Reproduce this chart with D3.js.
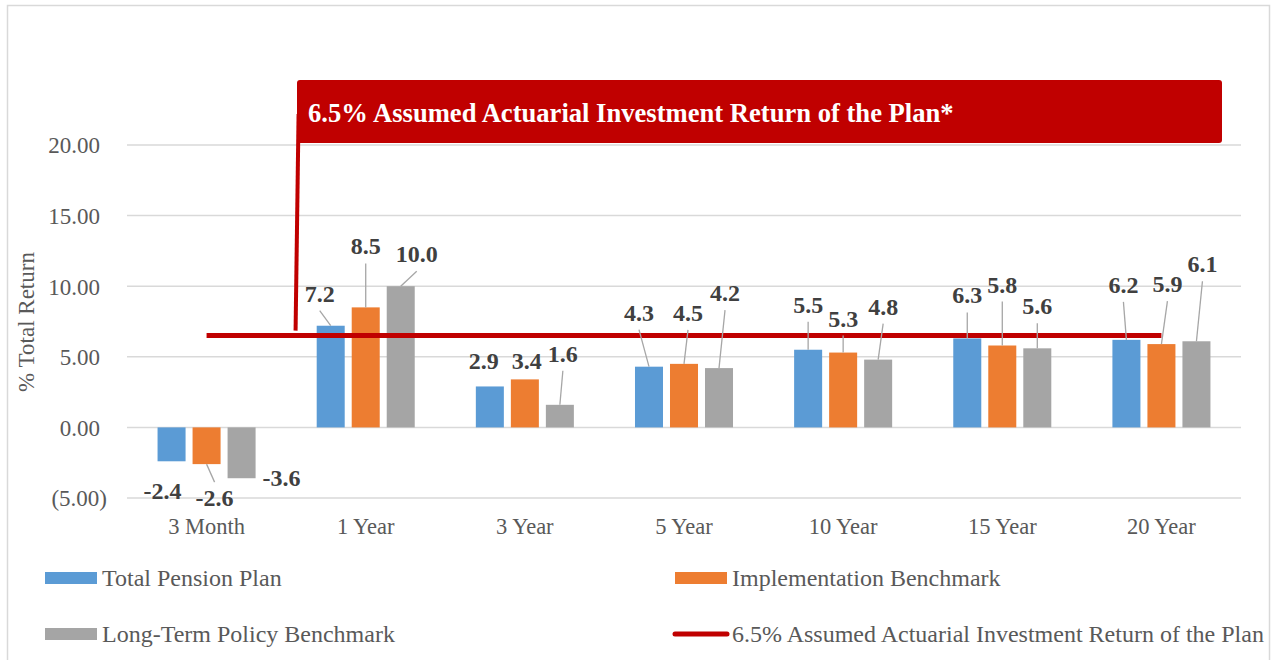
<!DOCTYPE html>
<html>
<head>
<meta charset="utf-8">
<script src="https://cdn.jsdelivr.net/npm/d3@7"></script>
<style>
  body { margin: 0; background: #fff; }
</style>
</head>
<body>
<div class="svg-container"></div>
<script>
// Data
var categories = ["3 Month", "1 Year", "3 Year", "5 Year", "10 Year", "15 Year", "20 Year"];
var seriesNames = ["Total Pension Plan", "Implementation Benchmark", "Long-Term Policy Benchmark"];
var totalPlan = [-2.4, 7.2, 2.9, 4.3, 5.5, 6.3, 6.2];
var implBenchmark = [-2.6, 8.5, 3.4, 4.5, 5.3, 5.8, 5.9];
var policyBenchmark = [-3.6, 10.0, 1.6, 4.2, 4.8, 5.6, 6.1];
var assumedReturn = 6.5;
var assumedLabel = "6.5% Assumed Actuarial Investment Return of the Plan";
var yTicks = [-5, 0, 5, 10, 15, 20];

var colors = ["#5b9bd5", "#ed7d31", "#a5a5a5"];
var red = "#c00000";
var serif = "'Liberation Serif', 'Times New Roman', serif";

// label nudges (px) from the bar end, and whether a leader line is drawn
var labelNudge = [
  [[-9, 38, 0], [8, 42, 1], [40, 8, 0]],
  [[-11, -24, 1], [0, -53, 1], [16, -24, 1]],
  [[-6, -17, 0], [2, -10, 0], [3, -43, 1]],
  [[-10, -46, 1], [4, -43, 1], [6, -67, 1]],
  [[0, -37, 1], [0, -26, 1], [5, -45, 1]],
  [[0, -35, 1], [0, -53, 1], [0, -34, 1]],
  [[-3, -47, 1], [6, -52, 1], [6, -69, 1]]
];

var W = 1275, H = 660;
var plotLeft = 127, plotRight = 1241;

var svg = d3.select(".svg-container").append("svg")
  .attr("width", W)
  .attr("height", H)
  .style("font-family", serif);

// chart border
svg.append("rect")
  .attr("x", 7.5).attr("y", 5.5)
  .attr("width", 1262).attr("height", 670)
  .attr("fill", "#fff")
  .attr("stroke", "#d9d9d9")
  .attr("stroke-width", 1.5);

// Scales
var x0 = d3.scaleBand().domain(categories)
  .range([plotLeft, plotRight])
  .paddingInner(0.384).paddingOuter(0.192);
var x1 = d3.scaleBand().domain(seriesNames)
  .range([0, x0.bandwidth()])
  .paddingInner(0.2);
var y = d3.scaleLinear().domain([-5, 20]).range([498, 145]);

var fmt1 = function(v) { return d3.format(".1f")(v).replace("\u2212", "-"); };

var rows = categories.map(function(c, i) {
  return {cat: c, i: i, vals: [totalPlan[i], implBenchmark[i], policyBenchmark[i]]};
});

// gridlines
svg.append("g").selectAll("line")
  .data(yTicks).enter().append("line")
  .attr("x1", plotLeft).attr("x2", plotRight)
  .attr("y1", function(d) { return y(d); })
  .attr("y2", function(d) { return y(d); })
  .attr("stroke", "#d9d9d9")
  .attr("stroke-width", 1.5);

// y axis labels
var yAxis = d3.axisLeft(y).tickValues(yTicks).tickSize(0).tickPadding(0)
  .tickFormat(function(d) {
    var s = d3.format(".2f")(Math.abs(d));
    return d < 0 ? "(" + s + ")" : s;
  });
var gy = svg.append("g").attr("transform", "translate(100,0)").call(yAxis)
  .attr("font-family", serif);
gy.select(".domain").remove();
gy.selectAll("text")
  .attr("x", function(d) { return d < 0 ? 7 : 0; })
  .attr("dy", "0.34em")
  .style("font-size", "23px")
  .style("fill", "#595959")
  .style("font-family", serif);

// x axis labels
var xAxis = d3.axisBottom(x0).tickSize(0).tickPadding(0);
var gx = svg.append("g").attr("transform", "translate(0,516)").call(xAxis)
  .attr("font-family", serif);
gx.select(".domain").remove();
gx.selectAll("text")
  .attr("y", 0).attr("dy", "0.8em")
  .style("font-size", "22.5px")
  .style("fill", "#595959")
  .style("font-family", serif);

// y title
svg.append("text")
  .attr("transform", "translate(34,322) rotate(-90)")
  .attr("text-anchor", "middle")
  .style("font-size", "23px")
  .style("fill", "#595959")
  .style("font-family", serif)
  .text("% Total Return");

// bars
var groups = svg.append("g").selectAll("g")
  .data(rows).enter().append("g")
  .attr("transform", function(d) { return "translate(" + x0(d.cat) + ",0)"; });

groups.selectAll("rect")
  .data(function(d) { return d.vals.map(function(v, j) { return {v: v, j: j}; }); })
  .enter().append("rect")
  .attr("x", function(d) { return x1(seriesNames[d.j]); })
  .attr("width", x1.bandwidth())
  .attr("y", function(d) { return y(Math.max(0, d.v)); })
  .attr("height", function(d) { return Math.abs(y(d.v) - y(0)); })
  .attr("fill", function(d) { return colors[d.j]; });

// assumed return line
var lineData = [categories[0], categories[categories.length - 1]];
var line = d3.line()
  .x(function(d) { return x0(d) + x0.bandwidth() / 2; })
  .y(function() { return y(assumedReturn); });
svg.append("path")
  .datum(lineData)
  .attr("d", line)
  .attr("fill", "none")
  .attr("stroke", red)
  .attr("stroke-width", 5);

// data labels with leader lines
var labels = [];
rows.forEach(function(r) {
  r.vals.forEach(function(v, j) {
    var bx = x0(r.cat) + x1(seriesNames[j]) + x1.bandwidth() / 2;
    var by = y(v);
    var n = labelNudge[r.i][j];
    labels.push({v: v, bx: bx, by: by, lx: bx + n[0], ly: by + n[1], leader: n[2]});
  });
});

svg.append("g").selectAll("line")
  .data(labels.filter(function(d) { return d.leader; }))
  .enter().append("line")
  .attr("x1", function(d) { return d.lx; })
  .attr("y1", function(d) { return d.v < 0 ? d.ly - 24 : d.ly + 9; })
  .attr("x2", function(d) { return d.bx; })
  .attr("y2", function(d) { return d.by; })
  .attr("stroke", "#a6a6a6")
  .attr("stroke-width", 1.3);

svg.append("g").selectAll("text")
  .data(labels).enter().append("text")
  .attr("x", function(d) { return d.lx; })
  .attr("y", function(d) { return d.ly; })
  .attr("text-anchor", "middle")
  .style("font-family", serif)
  .style("font-size", "24px")
  .style("font-weight", "bold")
  .style("fill", "#404040")
  .text(function(d) { return fmt1(d.v); });

// callout
var calloutX = x0(categories[0]) + x0.bandwidth() / 2 + 89;
svg.append("line")
  .attr("x1", calloutX + 3).attr("y1", 114)
  .attr("x2", calloutX).attr("y2", y(assumedReturn) - 5)
  .attr("stroke", red)
  .attr("stroke-width", 4);
svg.append("rect")
  .attr("x", 297).attr("y", 80)
  .attr("width", 925).attr("height", 63)
  .attr("rx", 3)
  .attr("fill", red);
svg.append("text")
  .attr("x", 308).attr("y", 122)
  .style("font-family", serif)
  .style("font-size", "26.6px")
  .style("font-weight", "bold")
  .style("fill", "#fff")
  .text(assumedLabel + "*");

// legend
var legendItems = [
  {name: seriesNames[0], x: 45, y: 578, type: "bar", color: colors[0]},
  {name: seriesNames[1], x: 675, y: 578, type: "bar", color: colors[1]},
  {name: seriesNames[2], x: 45, y: 634, type: "bar", color: colors[2]},
  {name: assumedLabel, x: 675, y: 634, type: "line", color: red}
];
var leg = svg.append("g").selectAll("g")
  .data(legendItems).enter().append("g")
  .attr("transform", function(d) { return "translate(" + d.x + "," + d.y + ")"; });
leg.filter(function(d) { return d.type === "bar"; })
  .append("rect")
  .attr("x", 0).attr("y", -6)
  .attr("width", 52).attr("height", 12)
  .attr("fill", function(d) { return d.color; });
leg.filter(function(d) { return d.type === "line"; })
  .append("line")
  .attr("x1", 0).attr("x2", 52)
  .attr("y1", 0).attr("y2", 0)
  .attr("stroke", function(d) { return d.color; })
  .attr("stroke-width", 5)
  .attr("stroke-linecap", "round");
leg.append("text")
  .attr("x", 57).attr("y", 0)
  .attr("dy", "0.33em")
  .style("font-family", serif)
  .style("font-size", "24px")
  .style("fill", "#595959")
  .text(function(d) { return d.name; });
</script>
</body>
</html>
